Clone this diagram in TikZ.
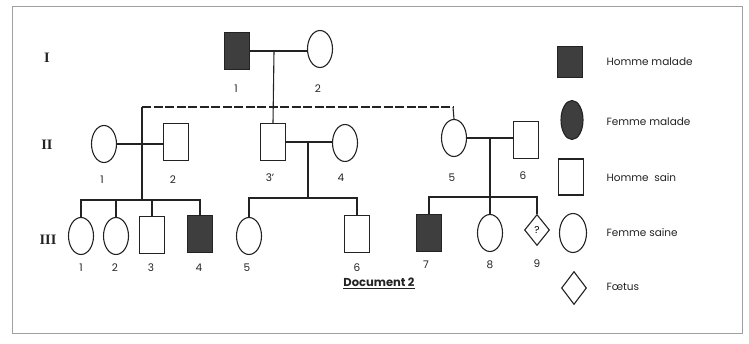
\documentclass[tikz,border=0pt]{standalone}
\usepackage{fontspec}
\setmainfont{Poppins}
\newfontfamily\genfont{Liberation Serif}
\usetikzlibrary{positioning,shapes.geometric,calc}
\definecolor{sick}{RGB}{62,62,62}
\definecolor{framegray}{RGB}{160,160,160}
\definecolor{inkgray}{RGB}{35,35,35}
\tikzset{
  hm/.style={draw=inkgray, line width=1.1pt, minimum width=25pt, minimum height=37pt, inner sep=0pt},
  hmsick/.style={hm, fill=sick},
  fm/.style={draw=inkgray, line width=1.1pt, ellipse, minimum width=25pt, minimum height=37pt, inner sep=0pt},
  fmsick/.style={fm, fill=sick},
  fts/.style={draw=inkgray, line width=1.1pt, diamond, minimum width=25pt, minimum height=31pt, inner sep=0pt, font=\normalsize},
  num/.style={font=\fontsize{10.5}{12}\selectfont, text=inkgray},
  gen/.style={font=\genfont\bfseries\Large, text=inkgray},
  leg/.style={anchor=west, font=\fontsize{10.5}{12}\selectfont, text=inkgray},
  lnk/.style={draw=inkgray, line width=1.1pt},
  dlnk/.style={draw=inkgray, line width=1.1pt, dash pattern=on 9pt off 2.5pt},
}

\begin{document}
\begin{tikzpicture}[x=1pt, y=-1pt]
  \useasboundingbox (0,0) rectangle (749,344);
  \draw[framegray] (12,6) rectangle (742,333);

  % generations
  \node[gen] (gI)   at (47,58)  {I};
  \node[gen] (gII)  at (47,145) {II};
  \node[gen] (gIII) at (48,240) {III};

  % generation I
  \node[hmsick] (i1) at (237,51) {};
  \node[fm]     (i2) at (320,49) {};
  \node[num] at (236,89) {1};
  \node[num] at (318,89) {2};

  % generation II
  \node[fm] (ii1) at (104,144) {};
  \node[hm] (ii2) at (176,142) {};
  \node[hm] (ii3) at (273,142) {};
  \node[fm] (ii4) at (345,143) {};
  \node[fm] (ii5) at (454,138) {};
  \node[hm] (ii6) at (526,140) {};
  \node[num] at (102,180) {1};
  \node[num] at (173,180) {2};
  \node[num] at (270,178) {3'};
  \node[num] at (341,178) {4};
  \node[num] at (452,178) {5};
  \node[num] at (523,176) {6};

  % generation III
  \node[fm]     (iii1) at (81,236)  {};
  \node[fm]     (iii2) at (116,236) {};
  \node[hm]     (iii3) at (152,235) {};
  \node[hmsick] (iii4) at (200,234) {};
  \node[fm]     (iii5) at (249,236) {};
  \node[hm]     (iii6) at (357,234) {};
  \node[hmsick] (iii7) at (429,233) {};
  \node[fm]     (iii8) at (490,233) {};
  \node[fts]    (iii9) at (537,230) {?};
  \node[num] at (81,268)  {1};
  \node[num] at (115,268) {2};
  \node[num] at (151,268) {3};
  \node[num] at (199,268) {4};
  \node[num] at (247,268) {5};
  \node[num] at (357,268) {6};
  \node[num] at (426,265) {7};
  \node[num] at (490,265) {8};
  \node[num] at (537,264) {9};

  % links
  \coordinate (mI) at (274,51);
  \draw[lnk] (i1.east) -- (i1.east -| i2.west);
  \draw[lnk] (mI) -- (ii3.north);
  \coordinate (dl) at (142,107);
  \coordinate (dr) at (453,107);
  \coordinate (sa) at (142,200);
  \draw[dlnk] (dl) -- (dr);
  \draw[lnk] (dr) -- (ii5.north);
  \draw[lnk] (dl) -- (sa);
  \draw[lnk] (ii1.east) -- (ii1.east -| ii2.west);
  \draw[lnk] (iii1.north) |- (iii4.north |- sa) -- (iii4.north);
  \draw[lnk] (iii2.north) -- (iii2.north |- sa);
  \draw[lnk] (iii3.north) -- (iii3.north |- sa);

  \coordinate (mB) at (308,142);
  \coordinate (sb) at (308,198);
  \draw[lnk] (ii3.east) -- (ii3.east -| ii4.west);
  \draw[lnk] (mB) -- (sb);
  \draw[lnk] (iii5.north) |- (iii6.north |- sb) -- (iii6.north);

  \coordinate (mC) at (490,138);
  \coordinate (sc) at (490,197);
  \draw[lnk] (ii5.east) -- (ii5.east -| ii6.west);
  \draw[lnk] (mC) -- (iii8.north);
  \draw[lnk] (iii7.north) |- (iii9.north |- sc) -- (iii9.north);

  \node[font=\fontsize{11.5}{13}\selectfont\bfseries, text=inkgray] (doc) at (379,283) {\underline{Document 2}};

  % legend
  \node[hmsick, minimum height=31pt] (lg1) at (570,62)  {};
  \node[fmsick, minimum width=22pt, minimum height=39pt] (lg2) at (572,120) {};
  \node[hm, minimum height=36pt]     (lg3) at (571,177) {};
  \node[fm, minimum width=27pt, minimum height=39pt] (lg4) at (573,233) {};
  \node[fts, minimum height=33pt]    (lg5) at (574,288) {};
  \node[leg] (t1) at (603,62)  {Homme malade};
  \node[leg] (t2) at (603,122) {Femme malade};
  \node[leg] (t3) at (603,178) {Homme\ \ sain};
  \node[leg] (t4) at (603,233) {Femme saine};
  \node[leg] (t5) at (603,287) {Fœtus};
\end{tikzpicture}
\end{document}
